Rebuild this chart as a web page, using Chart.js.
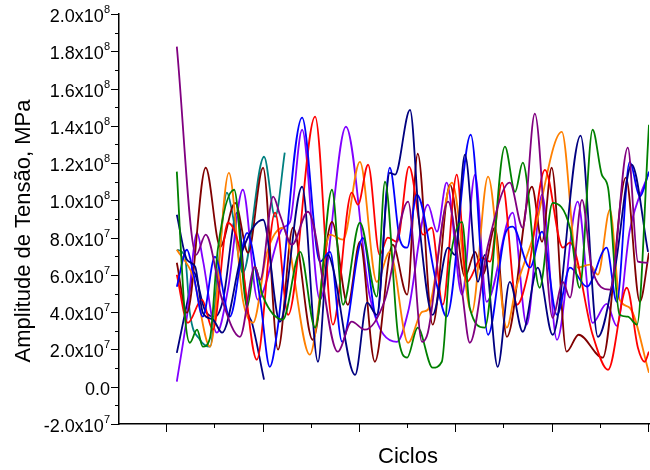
<!DOCTYPE html>
<html>
<head>
<meta charset="utf-8">
<script src="https://cdn.jsdelivr.net/npm/chart.js@4.4.1/dist/chart.umd.min.js"></script>
<style>
  body { margin: 0; background: #fff; }
  canvas { display: block; }
</style>
</head>
<body>
<canvas id="c" width="650" height="470"></canvas>
<script>
// amplitude in units of 1e7 MPa, cycle position in axis units (0..11)
const purple = [[1.20,18.25],[1.60,7.08],[1.80,8.16],[2.14,4.67],[2.51,2.68],[2.82,6.44],[2.93,5.74],[3.20,10.20],[3.34,9.23],[3.59,7.62],[3.92,9.39],[4.54,1.88],[4.83,3.49],[5.10,3.06],[5.52,4.67],[6.00,9.93],[6.29,2.41],[6.41,2.90],[6.83,9.93],[7.12,5.10],[7.28,2.36],[7.66,7.62],[8.11,10.95],[8.38,8.53],[8.63,14.65],[9.00,3.70],[9.21,5.63],[9.36,4.78],[9.61,10.03],[9.81,6.39],[10.19,5.21],[10.56,12.83],[10.77,6.71],[10.98,6.65]];
const green = [[1.20,11.54],[1.37,3.76],[1.47,2.36],[1.62,3.06],[1.74,2.15],[1.89,2.63],[2.05,7.35],[2.39,10.57],[2.66,4.29],[2.82,6.44],[2.99,4.83],[3.40,3.60],[3.76,7.24],[4.07,3.17],[4.42,10.57],[4.65,4.40],[5.00,8.80],[5.35,4.83],[5.52,11.00],[5.79,2.79],[5.98,1.56],[6.20,3.17],[6.51,1.02],[6.70,1.34],[6.87,6.71],[7.12,8.85],[7.28,4.24],[7.59,3.17],[8.01,12.88],[8.22,10.46],[8.38,12.02],[8.73,5.31],[9.00,9.87],[9.36,8.53],[9.56,5.31],[9.83,13.79],[10.02,11.38],[10.15,10.68],[10.39,3.86],[10.56,3.76],[10.75,3.33],[11.00,14.06]];
const navy = [[1.20,9.23],[1.41,6.82],[1.58,6.44],[1.74,3.97],[1.95,3.60],[2.14,2.90],[2.57,7.35],[2.99,8.96],[3.34,3.49],[3.80,10.73],[4.13,1.34],[4.34,7.08],[4.44,6.39],[4.90,0.64],[5.15,4.51],[5.35,3.86],[5.62,11.48],[5.73,11.38],[6.04,14.86],[6.24,8.53],[6.51,3.86],[6.83,7.46],[6.97,7.08],[7.18,12.45],[7.45,5.63],[7.59,7.08],[7.86,1.07],[8.11,5.63],[8.38,2.95],[8.69,6.39],[9.00,2.79],[9.58,13.47],[9.94,2.68],[10.29,6.28],[10.64,11.91],[10.98,7.24]];
const navyShort = [[1.20,1.82],[1.47,5.21],[1.54,6.17],[1.78,4.13],[1.99,3.76],[2.16,4.67],[2.45,9.34],[2.66,4.13],[2.76,3.43],[3.01,0.38]];
const blue = [[1.20,5.37],[1.41,7.35],[1.54,6.12],[1.74,3.76],[1.99,6.98],[2.30,3.76],[2.66,8.26],[2.93,4.67],[3.13,1.07],[3.28,2.90],[3.80,14.44],[4.17,6.71],[4.38,7.24],[4.63,2.41],[5.06,7.99],[5.35,3.70],[5.62,11.75],[5.83,7.89],[5.98,7.46],[6.18,10.30],[6.60,5.42],[6.80,3.76],[7.30,13.52],[7.66,2.79],[8.01,8.16],[8.17,8.59],[8.53,6.39],[8.78,8.32],[9.09,3.86],[9.36,6.39],[9.71,5.37],[10.12,7.46],[10.33,4.56],[10.60,12.07],[10.81,10.20],[11.00,11.54]];
const red = [[1.20,6.01],[1.43,3.43],[1.72,4.67],[1.95,3.06],[2.26,8.80],[2.51,7.35],[2.86,1.45],[3.24,9.34],[3.51,3.86],[4.07,14.49],[4.44,3.33],[4.83,10.41],[4.96,9.77],[5.17,11.91],[5.41,7.08],[5.58,8.00],[5.77,7.78],[6.02,11.81],[6.31,8.16],[6.49,8.53],[6.72,4.40],[7.01,11.38],[7.22,5.63],[7.53,6.92],[7.70,6.71],[7.95,10.95],[8.26,4.40],[8.49,6.12],[8.84,11.64],[9.21,7.46],[9.36,7.73],[9.83,2.79],[10.15,0.91],[10.54,5.31],[10.77,2.09],[10.91,1.34],[11.00,1.88]];
const orange = [[1.20,7.35],[1.54,5.90],[1.89,2.15],[2.28,11.48],[2.57,4.67],[2.78,3.43],[3.07,7.19],[3.40,8.53],[3.96,1.72],[4.38,8.16],[4.65,7.89],[5.00,12.07],[5.35,5.63],[5.62,7.24],[6.00,2.36],[6.29,4.02],[6.41,4.13],[6.91,10.95],[7.32,3.97],[7.66,11.27],[8.05,3.17],[8.22,5.10],[8.59,8.00],[9.19,13.68],[9.52,6.39],[9.77,6.55],[9.94,6.01],[10.19,9.50],[10.39,4.67],[10.60,4.24],[11.00,0.75]];
const wine = [[1.20,6.65],[1.41,3.97],[1.80,11.75],[2.10,7.51],[2.41,9.87],[2.68,7.19],[2.99,11.75],[3.30,1.99],[3.61,8.53],[4.02,2.52],[4.42,8.85],[4.75,4.40],[5.00,7.78],[5.31,1.34],[5.68,7.62],[5.98,4.94],[6.20,12.50],[6.51,3.33],[6.87,10.84],[7.18,5.90],[7.39,7.24],[7.55,6.01],[7.80,8.53],[8.05,2.68],[8.57,10.73],[8.78,7.78],[8.98,11.75],[9.29,1.88],[9.54,2.79],[10.04,1.56],[10.52,11.22],[10.81,4.56],[11.00,7.19]];
const teal = [[1.20,7.35],[1.37,6.98],[1.47,3.97],[1.68,2.52],[1.89,2.15],[2.05,6.12],[2.24,10.41],[2.34,9.50],[2.57,6.12],[3.01,12.34],[3.24,9.12],[3.44,12.56]];
const violet = [[1.20,0.27],[1.41,3.76],[1.62,8.26],[1.74,6.82],[2.03,2.90],[2.26,5.21],[2.57,10.57],[2.88,4.67],[3.40,8.53],[3.55,8.85],[3.80,13.79],[4.17,4.67],[4.71,13.95],[5.21,4.78],[5.77,2.41],[6.00,4.02],[6.41,9.77],[6.60,8.32],[6.80,10.95],[7.12,4.94],[7.39,11.38],[7.63,4.56],[8.17,9.34],[8.46,3.33],[8.78,10.30],[9.09,2.52],[9.52,9.93],[9.83,3.43],[10.12,4.45],[10.33,3.27],[10.60,8.37],[10.98,11.38]];

const yTickValues = [-2e7, 0, 2e7, 4e7, 6e7, 8e7, 1e8, 1.2e8, 1.4e8, 1.6e8, 1.8e8, 2e8];
const xTickValues = [1, 2, 3, 4, 5, 6, 7, 8, 9, 10, 11];

const series = [
  [purple, '#800080'], [green, '#008000'], [navy, '#000080'], [blue, '#0000ff'],
  [red, '#ff0000'], [orange, '#ff8000'], [wine, '#800000'], [violet, '#8000ff'],
  [teal, '#008080'], [navyShort, '#000080']
];

const FONT = '"Liberation Sans", Arial, Helvetica, sans-serif';

function splitLabel(v) {
  if (v === 0) return ['0.0', ''];
  const e = Math.floor(Math.log10(Math.abs(v)) + 1e-9);
  return [(v / Math.pow(10, e)).toFixed(1) + 'x10', String(e)];
}

// tick marks (major + minor), sci-notation labels and axis titles
const axisDecor = {
  id: 'axisDecor',
  afterDraw(chart) {
    const { ctx, chartArea: a, scales: { x, y } } = chart;
    ctx.save();
    ctx.strokeStyle = '#000';
    ctx.lineWidth = 1;
    ctx.beginPath();
    for (let k = -2; k <= 20; k++) {
      const py = Math.round(y.getPixelForValue(k * 1e7)) + 0.5;
      const len = k % 2 === 0 ? 8 : 4;
      ctx.moveTo(a.left - len, py);
      ctx.lineTo(a.left, py);
    }
    xTickValues.forEach(c => {
      const px = Math.round(x.getPixelForValue(c)) - 0.5;
      const len = c % 2 === 1 ? 8 : 4;
      ctx.moveTo(px, a.bottom);
      ctx.lineTo(px, a.bottom + len);
    });
    ctx.stroke();

    ctx.fillStyle = '#000';
    yTickValues.forEach(v => {
      const py = y.getPixelForValue(v);
      const [main, sup] = splitLabel(v);
      let right = a.left - 9;
      if (sup) {
        ctx.font = '11px ' + FONT;
        ctx.textAlign = 'right';
        ctx.textBaseline = 'alphabetic';
        ctx.fillText(sup, right, py - 1);
        right -= ctx.measureText(sup).width;
      }
      ctx.font = '18px ' + FONT;
      ctx.textAlign = 'right';
      ctx.textBaseline = 'middle';
      ctx.fillText(main, right, py + 3);
    });

    ctx.font = '22px ' + FONT;
    ctx.textAlign = 'center';
    ctx.textBaseline = 'middle';
    ctx.fillText('Ciclos', 408, 457);
    ctx.translate(24, 231);
    ctx.rotate(-Math.PI / 2);
    ctx.fillText('Amplitude de Tensão, MPa', 0, 0);
    ctx.restore();
  }
};

new Chart(document.getElementById('c'), {
  type: 'line',
  data: {
    datasets: series.map(([pts, color]) => ({
      data: pts.map(([c, amp]) => ({ x: c, y: amp * 1e7 })),
      borderColor: color,
      borderWidth: 1.8,
      pointRadius: 0,
      fill: false,
      cubicInterpolationMode: 'monotone'
    }))
  },
  options: {
    responsive: false,
    animation: false,
    layout: { padding: { top: 14, right: 1, left: 0, bottom: 0 } },
    plugins: { legend: { display: false }, tooltip: { enabled: false } },
    scales: {
      x: {
        type: 'linear', min: 0, max: 11,
        grid: { display: false },
        border: { color: '#000', width: 1.5 },
        ticks: { display: false },
        afterFit(s) { s.height = 46; }
      },
      y: {
        min: -2e7, max: 2e8,
        grid: { display: false },
        border: { color: '#000', width: 1.5 },
        ticks: { display: false },
        afterFit(s) { s.width = 119; }
      }
    }
  },
  plugins: [axisDecor]
});
</script>
</body>
</html>
